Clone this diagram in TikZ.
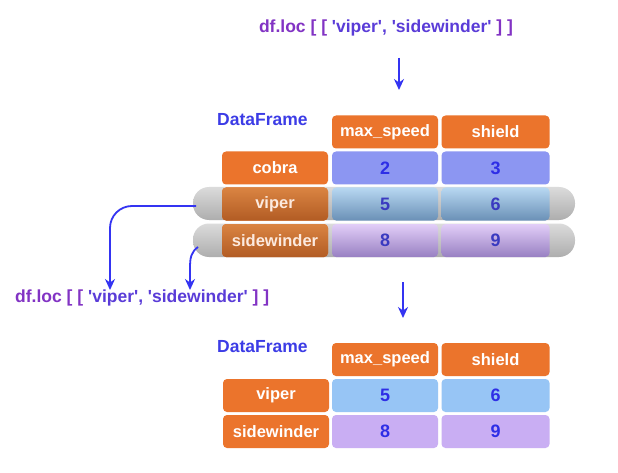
\documentclass[tikz,border=0pt]{standalone}
\usepackage{fontspec}
\setmainfont{Liberation Sans}
\usetikzlibrary{arrows.meta}

\definecolor{hdrorange}{HTML}{EB742C}
\definecolor{cobracell}{HTML}{8C96F2}
\definecolor{vipercell}{HTML}{97C5F5}
\definecolor{sidecell}{HTML}{C9AEF3}
\definecolor{numblue}{HTML}{2E2EE6}
\definecolor{dfblue}{HTML}{3C3CE6}
\definecolor{codepurple}{HTML}{8233C4}
\definecolor{codeblue}{HTML}{5A3CD8}
\definecolor{arrowblue}{HTML}{3434F2}
% shaded (selected) rows
\definecolor{labtop}{HTML}{DA8442}
\definecolor{labbot}{HTML}{B25C24}
\definecolor{bluetop}{HTML}{B8D8F2}
\definecolor{bluebot}{HTML}{6A90B6}
\definecolor{purptop}{HTML}{E2CEF8}
\definecolor{purpbot}{HTML}{9880C2}
\definecolor{selnum}{HTML}{3A3AC0}

\tikzset{
  cellbase/.style={rounded corners=4pt, inner sep=0pt, minimum height=33pt,
    font=\fontsize{16.5}{16.5}\selectfont\bfseries},
  hdr/.style={cellbase, fill=hdrorange, text=white, minimum width=106pt},
  rowlab/.style={cellbase, fill=hdrorange, text=white, minimum width=106pt},
  numcell/.style={cellbase, text=numblue, minimum width=106pt,
    font=\fontsize{18}{18}\selectfont\bfseries},
  dflabel/.style={anchor=west, text=dfblue, inner sep=0pt,
    font=\fontsize{17.5}{17.5}\selectfont\bfseries},
  code/.style={inner sep=0pt, text=codepurple, font=\fontsize{17.5}{17.5}\selectfont\bfseries},
  capsule/.style={rounded corners=16pt, top color=black!14, middle color=black!3,
    bottom color=black!32},
  selorange/.style={top color=labtop, bottom color=labbot, text=white!85!hdrorange},
  selblue/.style={top color=bluetop, bottom color=bluebot, text=selnum},
  selpurple/.style={top color=purptop, bottom color=purpbot, text=selnum},
  flow/.style={draw=arrowblue, line width=1.8pt, -{Stealth[length=11pt,width=10pt]}},
}

\newcommand{\sq}{\textquotesingle}
\newcommand{\loccode}{df.loc [ [ \textcolor{codeblue}{\sq viper\sq, \sq sidewinder\sq} ] ]}

\begin{document}
\begin{tikzpicture}[x=1pt, y=-1pt]
\fill[white] (0,0) rectangle (618,473);
\useasboundingbox (0,0) rectangle (618,473);

% selection expression and arrow into the source frame
\node[code] (topcode) at (386,28) {\loccode};
\coordinate (a1s) at (399,58);
\coordinate (a1e) at (399,90);
\draw[flow] (a1s) -- (a1e);

% source frame
\node[dflabel] (df1) at (217,120) {DataFrame};

\shade[capsule] (193,187) rectangle (575,220);
\shade[capsule] (193,223.5) rectangle (575,257);

\node[hdr] (h1a) at (385,132) {max\_speed};
\node[hdr, minimum width=108pt] (h1b) at (495.5,132) {shield};

\node[rowlab] (r1c) at (275,168) {cobra};
\node[numcell, fill=cobracell] (c1a) at (385,168) {2};
\node[numcell, fill=cobracell, minimum width=108pt] (c1b) at (495.5,168) {3};

\node[rowlab, selorange] (r1v) at (275,204) {viper};
\node[numcell, selblue] (v1a) at (385,204) {5};
\node[numcell, selblue, minimum width=108pt] (v1b) at (495.5,204) {6};

\node[rowlab, selorange] (r1s) at (275,240.5) {sidewinder};
\node[numcell, selpurple] (s1a) at (385,240.5) {8};
\node[numcell, selpurple, minimum width=108pt] (s1b) at (495.5,240.5) {9};

% row labels pulled out into the list
\node[code, anchor=west] (leftcode) at (15,298) {\loccode};
\coordinate (vstart) at (196,206);
\coordinate (vend) at (110,290);
\coordinate (sstart) at (198,247);
\coordinate (send) at (190,290);
\draw[flow, rounded corners=22pt] (vstart) -| (vend);
\draw[flow] (sstart) .. controls (191,252) and (190,258) .. (190,268) -- (send);

% arrow to the result
\coordinate (a2s) at (403,282);
\coordinate (a2e) at (403,318);
\draw[flow] (a2s) -- (a2e);

% resulting frame
\node[dflabel] (df2) at (217,347) {DataFrame};

\node[hdr] (h2a) at (385,359.5) {max\_speed};
\node[hdr, minimum width=108pt] (h2b) at (495.5,359.5) {shield};

\node[rowlab] (r2v) at (276,395.5) {viper};
\node[numcell, fill=vipercell] (v2a) at (385,395.5) {5};
\node[numcell, fill=vipercell, minimum width=108pt] (v2b) at (495.5,395.5) {6};

\node[rowlab] (r2s) at (276,431.5) {sidewinder};
\node[numcell, fill=sidecell] (s2a) at (385,431.5) {8};
\node[numcell, fill=sidecell, minimum width=108pt] (s2b) at (495.5,431.5) {9};
\end{tikzpicture}
\end{document}
